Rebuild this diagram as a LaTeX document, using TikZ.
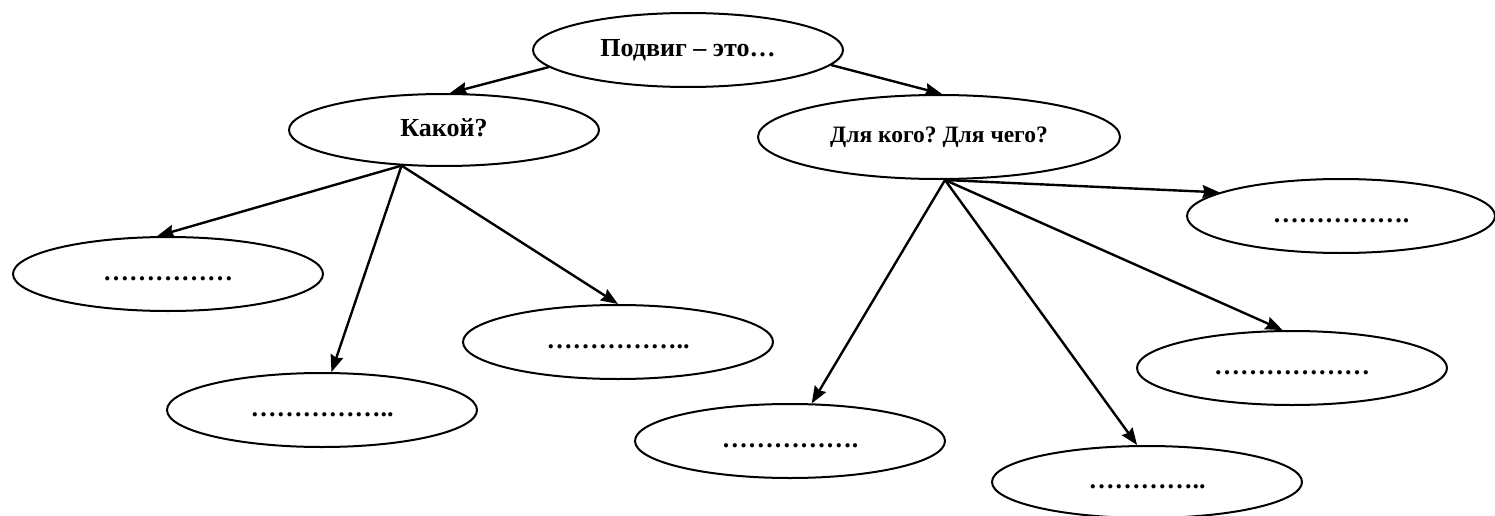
\documentclass[tikz,border=0pt]{standalone}
\usepackage{fontspec}
\setmainfont{Liberation Serif}
\frenchspacing
\usetikzlibrary{shapes.geometric,arrows.meta}
\tikzset{
  oval/.style={draw=black, line width=2pt, ellipse, inner sep=0pt,
    minimum width=310pt, minimum height=74pt,
    font=\fontsize{26}{30}\selectfont\bfseries,
    text height=18pt, text depth=5pt},
  arr/.style={line width=2.4pt, -{Stealth[length=17pt,width=13pt,inset=2pt]}}
}
\begin{document}
\begin{tikzpicture}[x=1pt,y=-1pt]
\useasboundingbox (0,0) rectangle (1495,516);
\node[oval] (top) at (688,50) {Подвиг – это…};
\node[oval, minimum height=72pt] (kak) at (444,130) {Какой?};
\node[oval, minimum width=362pt, minimum height=84pt,
  font=\fontsize{23.5}{28}\selectfont\bfseries, text height=16pt] (dlya) at (939,137) {Для кого? Для чего?};
\node[oval] (l1) at (168,274) {……………};
\node[oval] (l9) at (322,410) {……………..};
\node[oval] (l10) at (618,342) {……………..};
\node[oval] (r5) at (790,441) {…………….};
\node[oval, minimum height=72pt] (r6) at (1147,482) {…………..};
\node[oval, minimum width=308pt] (r7) at (1341,216) {…………….};
\node[oval] (r8) at (1292,368) {………………};
\draw[arr] (top.187) -- ([xshift=6pt]kak.north);
\draw[arr] (top.354) -- ([xshift=3pt]dlya.north);
\draw[arr] (kak.220) -- (l1.106);
\draw[arr] (kak.220) -- (l9.76);
\draw[arr] (kak.220) -- (l10.north);
\draw[arr] ([xshift=6pt]dlya.south) -- (r7.169);
\draw[arr] ([xshift=6pt]dlya.south) -- (r8.104);
\draw[arr] ([xshift=6pt]dlya.south) -- (r6.105);
\draw[arr] ([xshift=6pt]dlya.south) -- (r5.60);
\end{tikzpicture}
\end{document}
